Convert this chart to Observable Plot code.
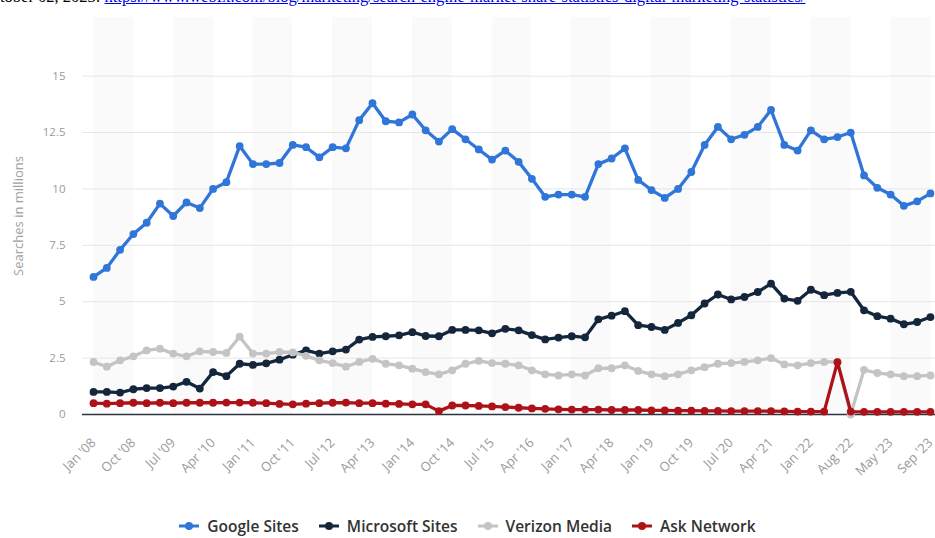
<!DOCTYPE html>
<html><head><meta charset="utf-8">
<script src="https://cdn.jsdelivr.net/npm/d3@7"></script>
<script src="https://cdn.jsdelivr.net/npm/@observablehq/plot@0.6"></script>
<style>
body{margin:0;background:#fff;width:935px;height:538px;overflow:hidden;position:relative;font-family:"Open Sans",sans-serif}
#src{position:absolute;left:0;top:-11px;font-family:"Liberation Serif",serif;font-size:16.5px;line-height:16px;white-space:nowrap;color:#000}
#src a{color:#0000ee;text-decoration:underline}
#chart{position:absolute;left:0;top:0}
#legend{position:absolute;left:0;top:515px;width:935px;display:flex;justify-content:center;align-items:center;font-size:15.5px;font-weight:600;color:#333}
.li{display:flex;align-items:center;margin:0 10px}
.li svg{margin-right:8px}
</style>
</head><body>
<div id="src">tober 02, 2023: <a>https://www.webfx.com/blog/marketing/search-engine-market-share-statistics-digital-marketing-statistics/</a></div>
<div id="chart"></div>
<div id="legend"></div>
<script>
const periods = ["Jan '08","Apr '08","Jul '08","Oct '08","Jan '09","Apr '09","Jul '09","Oct '09",
"Jan '10","Apr '10","Jul '10","Oct '10","Jan '11","Apr '11","Jul '11","Oct '11",
"Jan '12","Apr '12","Jul '12","Oct '12","Jan '13","Apr '13","Jul '13","Oct '13",
"Jan '14","Apr '14","Jul '14","Oct '14","Jan '15","Apr '15","Jul '15","Oct '15",
"Jan '16","Apr '16","Jul '16","Oct '16","Jan '17","Jul '17","Jan '18","Apr '18",
"Jul '18","Oct '18","Jan '19","Apr '19","Jul '19","Oct '19","Jan '20","Apr '20",
"Jul '20","Oct '20","Jan '21","Apr '21","Jul '21","Oct '21","Jan '22","Apr '22",
"Jul '22","Aug '22","Nov '22","Feb '23","May '23","Jul '23","Aug '23","Sep '23"];

const tickLabels = ["Jan '08","Oct '08","Jul '09","Apr '10","Jan '11","Oct '11","Jul '12","Apr '13",
"Jan '14","Oct '14","Jul '15","Apr '16","Jan '17","Apr '18","Jan '19","Oct '19","Jul '20",
"Apr '21","Jan '22","Aug '22","May '23","Sep '23"];

const googleSites = [6.1,6.5,7.3,8.0,8.5,9.35,8.8,9.4,9.15,10.0,10.3,11.9,11.1,11.1,11.15,11.95,
11.85,11.4,11.85,11.8,13.05,13.8,13.0,12.95,13.3,12.6,12.1,12.65,12.2,11.75,11.3,11.7,
11.2,10.45,9.65,9.75,9.75,9.65,11.1,11.35,11.8,10.4,9.95,9.6,10.0,10.75,11.95,12.75,
12.2,12.4,12.75,13.5,11.95,11.7,12.6,12.2,12.3,12.5,10.6,10.05,9.75,9.25,9.45,9.8];

const microsoftSites = [1.0,1.0,0.97,1.12,1.17,1.17,1.24,1.45,1.15,1.88,1.7,2.25,2.2,2.27,2.43,2.65,
2.84,2.7,2.8,2.88,3.32,3.44,3.47,3.51,3.65,3.48,3.47,3.75,3.75,3.73,3.6,3.8,
3.73,3.52,3.33,3.41,3.47,3.42,4.22,4.38,4.58,3.96,3.88,3.75,4.06,4.4,4.92,5.32,
5.1,5.21,5.43,5.8,5.14,5.04,5.53,5.29,5.39,5.44,4.62,4.36,4.25,4.0,4.1,4.32];

const verizonMedia = [2.33,2.12,2.4,2.58,2.84,2.92,2.7,2.58,2.8,2.77,2.73,3.45,2.7,2.7,2.77,2.75,
2.6,2.4,2.28,2.12,2.33,2.47,2.25,2.18,2.03,1.88,1.78,1.96,2.25,2.38,2.28,2.25,
2.18,1.96,1.78,1.73,1.78,1.73,2.05,2.05,2.18,1.93,1.78,1.7,1.78,1.96,2.1,2.25,
2.28,2.33,2.4,2.5,2.22,2.18,2.28,2.33,2.33,0,1.98,1.84,1.78,1.7,1.7,1.73];

const askNetwork = [0.5,0.48,0.5,0.52,0.5,0.52,0.5,0.52,0.52,0.52,0.53,0.53,0.52,0.5,0.47,0.45,
0.48,0.5,0.52,0.53,0.5,0.5,0.48,0.47,0.45,0.45,0.15,0.4,0.4,0.38,0.36,0.33,
0.3,0.27,0.25,0.23,0.22,0.22,0.22,0.2,0.2,0.2,0.18,0.18,0.17,0.17,0.16,0.16,
0.15,0.15,0.15,0.15,0.14,0.13,0.13,0.13,2.32,0.13,0.12,0.12,0.12,0.12,0.12,0.12];

const seriesNames = ["Google Sites","Microsoft Sites","Verizon Media","Ask Network"];
const seriesColors = ["#2f76d8","#14263c","#c4c4c4","#ad1219"];
const yTicks = [0,2.5,5,7.5,10,12.5,15];

const seriesValues = [googleSites, microsoftSites, verizonMedia, askNetwork];
const tickIdx = tickLabels.map(l => periods.indexOf(l));
const bands = tickIdx.filter((d, k) => k % 2 === 0 && k < tickIdx.length - 1);

const drawOrder = [1, 2, 3, 0];
const lineMarks = [];
for (const s of drawOrder) {
  const data = seriesValues[s].map((v, i) => ({i, v}));
  lineMarks.push(Plot.line(data, {x: "i", y: "v", stroke: seriesColors[s], strokeWidth: 3.3, curve: "linear"}));
  lineMarks.push(Plot.dot(data, {x: "i", y: "v", r: 3.9, fill: seriesColors[s], stroke: "none"}));
}

const chart = Plot.plot({
  width: 935, height: 490,
  marginLeft: 82, marginRight: 0, marginTop: 17, marginBottom: 76,
  style: {fontFamily: "'Open Sans', sans-serif", background: "transparent"},
  x: {domain: [-0.83, 63.38]},
  y: {domain: [0, 17.6]},
  marks: [
    Plot.rect(bands, {x1: d => d, x2: d => d + 3, fill: "#fafafa"}),
    Plot.gridY(yTicks, {stroke: "#e6e6e6", strokeOpacity: 1, strokeWidth: 1}),
    Plot.axisY(yTicks, {tickSize: 0, tickPadding: 17, fontSize: 11.5, fill: "#9a9a9a", tickFormat: d => String(d), label: null}),
    Plot.axisX(tickIdx, {tickSize: 0, tickPadding: 26, tickRotate: -45, fontSize: 13, fill: "#9a9a9a", tickFormat: i => periods[i], label: null}),
    Plot.text(["Searches in millions"], {frameAnchor: "left", rotate: -90, dx: -64, textAnchor: "middle", fontSize: 13, fill: "#a0a0a0"}),
    Plot.ruleY([0], {stroke: "#2c3440", strokeWidth: 1.5}),
    ...lineMarks
  ]
});
document.getElementById("chart").appendChild(chart);

const legend = document.getElementById("legend");
seriesNames.forEach((n, k) => {
  const item = document.createElement("div");
  item.className = "li";
  item.innerHTML = `<svg width="20" height="10"><line x1="0" y1="5" x2="20" y2="5" stroke="${seriesColors[k]}" stroke-width="3"/><circle cx="10" cy="5" r="4" fill="${seriesColors[k]}"/></svg><span>${n}</span>`;
  legend.appendChild(item);
});
</script>
</body></html>
